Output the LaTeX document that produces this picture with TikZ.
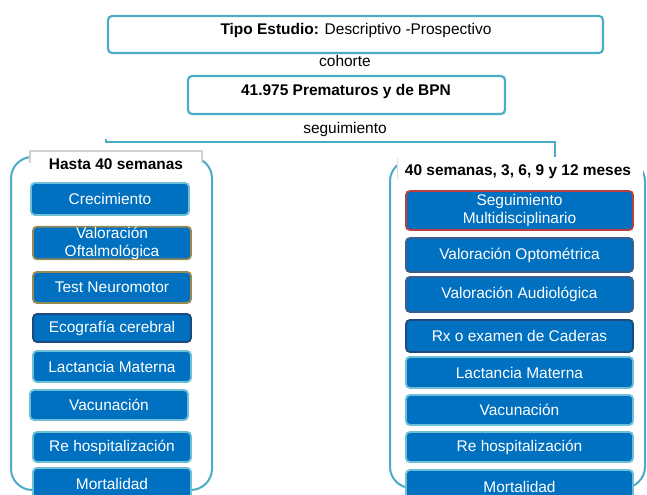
\documentclass[tikz,border=0pt]{standalone}
\usepackage{fontspec}
\setmainfont{Liberation Sans}
\definecolor{itemblue}{HTML}{0070C0}
\definecolor{teal1}{HTML}{4BACC6}
\definecolor{teal2}{HTML}{6CBFD6}
\definecolor{khaki}{HTML}{948A54}
\definecolor{navy}{HTML}{1F4A80}
\definecolor{slateb}{HTML}{3E5F8C}
\definecolor{redb}{HTML}{B8403E}
\newcommand{\itembox}[7]{\node[itembox, draw=#6, minimum width={(#4-#2)*0.75pt}, minimum height={(#5-#3)*0.75pt}] (#1) at ({(#2+#4)/2},{(#3+#5)/2}) {#7};}
\newcommand{\plainbox}[6]{\node[#6, minimum width={(#4-#2)*0.75pt}, minimum height={(#5-#3)*0.75pt}] (#1) at ({(#2+#4)/2},{(#3+#5)/2}) {};}
\begin{document}
\begin{tikzpicture}[x=0.75pt,y=-0.75pt,
  every node/.style={font=\fontsize{11.6}{13.5}\selectfont, inner sep=0pt, outer sep=0pt},
  itembox/.style={rectangle, rounded corners=3pt, fill=itemblue, line width=1.4pt, text=white, align=center},
  topbox/.style={rectangle, rounded corners=3pt, draw=teal1, fill=white, line width=1.6pt},
  panel/.style={draw=teal1, line width=1.5pt, rounded corners=16pt, fill=white},
  hdr/.style={rectangle, fill=white},
  conn/.style={draw=teal1, line width=1pt}]
\useasboundingbox (0,0) rectangle (647,495);
\clip (0,0) rectangle (647,495);
\fill[white] (0,0) rectangle (647,495);

% top boxes
\plainbox{t1}{108}{16}{603}{53}{topbox}
\node (t1txt) at (356,31) {\textbf{Tipo Estudio:} Descriptivo -Prospectivo};
\node (coh) at (345,61) {cohorte};
\plainbox{t2}{188}{76}{505}{114}{topbox}
\node (t2txt) at (346,92) {\textbf{41.975 Prematuros y de BPN}};
\node (seg) at (345,130) {seguimiento};

% panels
\plainbox{lp}{11}{157}{212}{490}{panel}
\plainbox{rp}{390}{160}{645}{488}{panel}

% headers
\plainbox{lh}{30}{151}{202}{178}{hdr}
\draw[gray!35, line width=0.8pt] (lh.north west) ++(0,12) -- (lh.north west) -- (lh.north east) -- ++(0,12);
\node[font=\fontsize{11.6}{13.5}\selectfont\bfseries] (lhtxt) at (116,164) {Hasta 40 semanas};
\plainbox{rh}{397}{158}{643}{184}{hdr}
\draw[gray!25, line width=0.6pt] (rh.north west) -- ++(0,22);
\node[font=\fontsize{11.6}{13.5}\selectfont\bfseries] (rhtxt) at (518,172) {40 semanas, 3, 6, 9 y 12 meses};

% connector
\coordinate (cl) at (106,142);
\coordinate (clt) at (106,139);
\coordinate (cr) at (555,142);
\coordinate (crb) at (555,157);
\draw[conn] (clt) -- (cl) -- (cr) -- (crb);

% left items
\itembox{l1}{31}{183}{189}{215}{teal2}{Crecimiento}
\itembox{l2}{33}{227}{191}{259}{khaki}{Valoración\\Oftalmológica}
\itembox{l3}{33}{272}{191}{303}{khaki}{Test Neuromotor}
\itembox{l4}{33}{314}{191}{342}{navy}{Ecografía cerebral}
\itembox{l5}{33}{351}{191}{382}{teal2}{Lactancia Materna}
\itembox{l6}{30}{390}{188}{420}{teal2}{Vacunación}
\itembox{l7}{33}{432}{191}{462}{teal2}{Re hospitalización}
\itembox{l8}{33}{468}{191}{499}{teal2}{Mortalidad}

% right items
\itembox{r1}{406}{191}{633}{230}{redb}{Seguimiento\\Multidisciplinario}
\itembox{r2}{406}{238}{633}{272}{slateb}{Valoración Optométrica}
\itembox{r3}{406}{277}{633}{312}{slateb}{Valoración Audiológica}
\itembox{r4}{406}{320}{633}{352}{navy}{Rx o examen de Caderas}
\itembox{r5}{406}{357}{633}{388}{teal2}{Lactancia Materna}
\itembox{r6}{406}{395}{633}{425}{teal2}{Vacunación}
\itembox{r7}{406}{432}{633}{462}{teal2}{Re hospitalización}
\itembox{r8}{406}{470}{633}{503}{teal2}{Mortalidad}
\end{tikzpicture}
\end{document}
